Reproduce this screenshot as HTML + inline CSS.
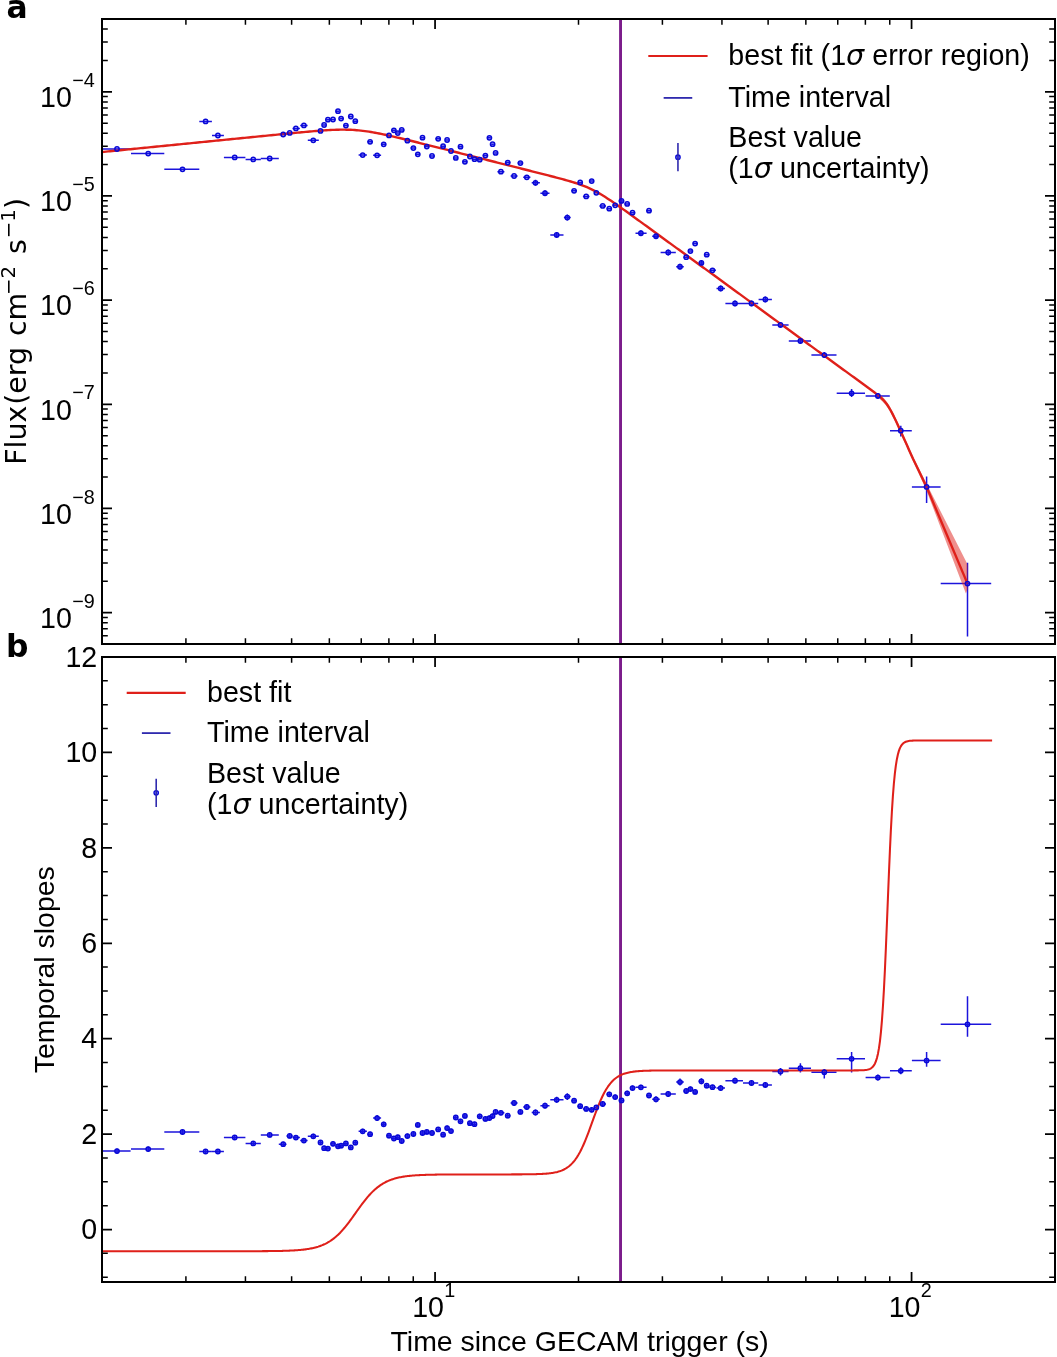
<!DOCTYPE html>
<html lang="en"><head><meta charset="utf-8"><title>Figure</title>
<style>html,body{margin:0;padding:0;background:#fff}svg{display:block;will-change:transform}text{font-family:"Liberation Sans",sans-serif;font-size:28.6px;fill:#000}.lg{font-size:28.65px}.al{font-size:28.45px}.pl{font-size:31.4px;font-weight:bold}.dj{font-family:"DejaVu Sans","Liberation Sans",sans-serif}.sup{font-size:19.8px}</style></head><body>
<svg width="1057" height="1357" viewBox="0 0 1057 1357">
<rect width="1057" height="1357" fill="#fff"/>
<defs><clipPath id="ca"><rect x="102.0" y="19.0" width="953.0" height="625.0"/></clipPath><clipPath id="cb"><rect x="102.0" y="657.0" width="953.0" height="625.0"/></clipPath></defs>
<g clip-path="url(#ca)">
<path d="M620.55 19.0V644.0" stroke="#7c1c8b" stroke-width="2.9"/>
<path d="M96 149H130.6M131 153.6H164.3M164.3 169.3H199.3M199.3 121.4H211.9M212 135.5H223.9M223.9 157.4H245.4M245.6 159.4H260.8M260.8 158.5H278.8M278.8 134.5H286.5M286.5 132.9H292.6M292.5 128.4H299.9M300.2 125.4H307.6M307.8 140.3H318.8M318.8 130.9H322.3M322.5 125H325.8M326.2 119.7H330.25M330.65 119.5H335.3M335.7 111.2H339.35M339.75 118.6H343.3M343.7 125.6H348.15M348.55 116.5H352.85M353.25 121.2H358M358.6 155.1H366.9M367.4 141.8H372.8M373.1 155.3H381.1M381 144.3H386.15M386.55 135.4H391.25M391.65 130.3H395.65M396.05 133.1H399.55M399.95 129.9H404.35M404.75 140.7H410.1M410.7 148.1H415.4M415.8 154.3H419.95M420.35 137.7H424.45M424.85 146.6H429.2M429.6 156H434.7M435.5 138.8H440.45M440.85 146.2H444.9M445.3 140H448.85M449.25 151H453.2M453.6 157.9H457.95M458.35 146.7H462.5M462.9 161.8H467.2M467.6 156.5H472M472.4 159.2H476.9M477.3 159.7H482.35M482.75 155.6H487.2M487.6 137.8H490.8M491.2 144.2H493.9M494.3 152.9H498.05M497.4 171.7H504.4M505 162.6H510.4M510.6 176H517.6M517.7 163.1H523.1M523.2 177.3H530.4M531.7 182.8H539.9M540.4 193.2H549.5M550.3 234.9H563.5M563.9 217.6H570.7M571.4 190.8H576.8M577.5 182.4H582.9M582.9 196.4H589.5M589.15 181.1H593.8M594.2 192.8H599M599.4 205.9H606M606.6 208.7H612M612.5 205.3H617.9M618.8 200.9H624.15M624.55 203.9H629.65M630.05 212.7H635.2M635.5 233.2H646.6M646.3 210.7H651.7M652.2 236.2H659.8M660.6 252.5H675.8M676.2 266.7H683.8M683.5 257.2H688.1M688.5 251.1H692.55M692.95 243.6H697.8M698.7 262.9H703.85M704.25 254.7H709.4M709.3 270.3H715.9M716.5 288.4H725M725.4 303.4H743M743 303.4H758.2M758.6 299.4H771.9M772.3 324.9H788.6M788.8 341H811M811.4 355.1H836.5M836.7 393.3H865M865.6 395.9H889.8M890 430.7H911.8M911.9 486.9H940.6M940.7 583.6H991.2" stroke="#1c14dc" stroke-width="1.5" fill="none"/><path d="M535.5 179.8V185.8M545 190.2V196.2M556.7 231.9V237.9M567.3 214.6V220.6M640.9 230.2V236.2M656 233.2V239.2M668.2 249.5V255.5M680 263.7V269.7M701.4 259.9V265.9M720.7 285.4V291.4M735 300.4V306.4M751.5 300.4V306.4M765.3 296.4V302.4M780.5 321.9V327.9M800.4 338V344M824.3 352.1V358.1M851.6 388.9V396.9M877.9 392.9V398.9M900.8 425.8V436.4M926.6 476.6V503.1M967.5 562.8V636.5" stroke="#1c14dc" stroke-width="1.5" fill="none"/>
<path d="M880 394.53L881.14 395.54L882.28 396.62L883.41 397.78L884.55 399.03L885.69 400.41L886.83 401.93L887.97 403.59L889.1 405.39L890.24 407.34L891.38 409.41L892.52 411.6L893.66 413.87L894.79 416.22L895.93 418.62L897.07 421.06L898.21 423.53L899.34 426.02L900.48 428.53L901.62 431.05L902.76 433.58L903.9 436.12L905.03 438.66L906.17 441.2L907.31 443.74L908.45 446.29L909.59 448.84L910.72 451.39L911.86 453.93L913 456.48L926.6 483.8L966.6 562.5L967.6 565L967.6 589L965.9 593.5L926.6 490.8L913 461.08L911.86 458.53L910.72 455.99L909.59 453.44L908.45 450.89L907.31 448.34L906.17 445.8L905.03 443.26L903.9 440.72L902.76 438.18L901.62 435.65L900.48 433.13L899.34 430.62L898.21 428.13L897.07 425.66L895.93 423.22L894.79 420.82L893.66 418.47L892.52 416.2L891.38 414.01L890.24 411.94L889.1 409.99L887.97 408.19L886.83 406.53L885.69 405.01L884.55 403.63L883.41 402.38L882.28 401.22L881.14 400.14L880 399.13Z" fill="#df201a" fill-opacity="0.5"/>
<path d="M100 152.23L102.04 152.03L104.08 151.83L106.11 151.62L108.15 151.42L110.19 151.22L112.23 151.02L114.26 150.81L116.3 150.61L118.34 150.41L120.38 150.21L122.41 150L124.45 149.8L126.49 149.6L128.53 149.4L130.56 149.19L132.6 148.99L134.64 148.79L136.68 148.58L138.71 148.38L140.75 148.18L142.79 147.98L144.83 147.77L146.86 147.57L148.9 147.37L150.94 147.17L152.98 146.96L155.02 146.76L157.05 146.56L159.09 146.36L161.13 146.15L163.17 145.95L165.2 145.75L167.24 145.54L169.28 145.34L171.32 145.14L173.35 144.94L175.39 144.73L177.43 144.53L179.47 144.33L181.5 144.13L183.54 143.92L185.58 143.72L187.62 143.52L189.65 143.32L191.69 143.11L193.73 142.91L195.77 142.71L197.8 142.5L199.84 142.3L201.88 142.1L203.92 141.9L205.95 141.69L207.99 141.49L210.03 141.29L212.07 141.09L214.11 140.88L216.14 140.68L218.18 140.48L220.22 140.28L222.26 140.07L224.29 139.87L226.33 139.67L228.37 139.46L230.41 139.26L232.44 139.06L234.48 138.86L236.52 138.65L238.56 138.45L240.59 138.25L242.63 138.05L244.67 137.84L246.71 137.64L248.74 137.44L250.78 137.24L252.82 137.03L254.86 136.83L256.89 136.63L258.93 136.43L260.97 136.23L263.01 136.02L265.05 135.82L267.08 135.62L269.12 135.42L271.16 135.22L273.2 135.02L275.23 134.82L277.27 134.62L279.31 134.42L281.35 134.22L283.38 134.02L285.42 133.82L287.46 133.62L289.5 133.42L291.53 133.22L293.57 133.03L295.61 132.83L297.65 132.64L299.68 132.45L301.72 132.26L303.76 132.07L305.8 131.88L307.83 131.7L309.87 131.52L311.91 131.34L313.95 131.17L315.98 131L318.02 130.84L320.06 130.68L322.1 130.53L324.14 130.39L326.17 130.25L328.21 130.13L330.25 130.02L332.29 129.92L334.32 129.83L336.36 129.76L338.4 129.7L340.44 129.67L342.47 129.65L344.51 129.65L346.55 129.68L348.59 129.73L350.62 129.81L352.66 129.91L354.7 130.04L356.74 130.2L358.77 130.38L360.81 130.59L362.85 130.82L364.89 131.08L366.92 131.37L368.96 131.67L371 132L373.04 132.35L375.08 132.72L377.11 133.1L379.15 133.5L381.19 133.91L383.23 134.33L385.26 134.77L387.3 135.22L389.34 135.67L391.38 136.13L393.41 136.6L395.45 137.08L397.49 137.56L399.53 138.04L401.56 138.53L403.6 139.02L405.64 139.52L407.68 140.01L409.71 140.51L411.75 141.02L413.79 141.52L415.83 142.03L417.86 142.53L419.9 143.04L421.94 143.55L423.98 144.06L426.02 144.57L428.05 145.08L430.09 145.59L432.13 146.1L434.17 146.61L436.2 147.13L438.24 147.64L440.28 148.15L442.32 148.66L444.35 149.18L446.39 149.69L448.43 150.21L450.47 150.72L452.5 151.23L454.54 151.75L456.58 152.26L458.62 152.77L460.65 153.29L462.69 153.8L464.73 154.32L466.77 154.83L468.8 155.35L470.84 155.86L472.88 156.37L474.92 156.89L476.95 157.4L478.99 157.92L481.03 158.43L483.07 158.95L485.11 159.46L487.14 159.98L489.18 160.49L491.22 161L493.26 161.52L495.29 162.03L497.33 162.55L499.37 163.06L501.41 163.58L503.44 164.09L505.48 164.61L507.52 165.12L509.56 165.63L511.59 166.15L513.63 166.66L515.67 167.18L517.71 167.69L519.74 168.21L521.78 168.72L523.82 169.24L525.86 169.75L527.89 170.27L529.93 170.78L531.97 171.3L534.01 171.82L536.05 172.33L538.08 172.85L540.12 173.37L542.16 173.89L544.2 174.41L546.23 174.93L548.27 175.45L550.31 175.98L552.35 176.5L554.38 177.03L556.42 177.57L558.46 178.1L560.5 178.65L562.53 179.2L564.57 179.76L566.61 180.33L568.65 180.91L570.68 181.5L572.72 182.12L574.76 182.75L576.8 183.41L578.83 184.1L580.87 184.82L582.91 185.58L584.95 186.38L586.98 187.23L589.02 188.12L591.06 189.07L593.1 190.07L595.14 191.12L597.17 192.22L599.21 193.37L601.25 194.57L603.29 195.81L605.32 197.09L607.36 198.4L609.4 199.74L611.44 201.1L613.47 202.49L615.51 203.89L617.55 205.31L619.59 206.74L621.62 208.18L623.66 209.63L625.7 211.09L627.74 212.55L629.77 214.02L631.81 215.49L633.85 216.96L635.89 218.43L637.92 219.91L639.96 221.39L642 222.87L644.04 224.35L646.08 225.83L648.11 227.32L650.15 228.8L652.19 230.28L654.23 231.77L656.26 233.25L658.3 234.74L660.34 236.22L662.38 237.71L664.41 239.19L666.45 240.68L668.49 242.16L670.53 243.65L672.56 245.13L674.6 246.62L676.64 248.1L678.68 249.59L680.71 251.07L682.75 252.56L684.79 254.05L686.83 255.53L688.86 257.02L690.9 258.5L692.94 259.99L694.98 261.47L697.02 262.96L699.05 264.44L701.09 265.93L703.13 267.41L705.17 268.9L707.2 270.39L709.24 271.87L711.28 273.36L713.32 274.84L715.35 276.33L717.39 277.81L719.43 279.3L721.47 280.78L723.5 282.27L725.54 283.76L727.58 285.24L729.62 286.73L731.65 288.21L733.69 289.7L735.73 291.18L737.77 292.67L739.8 294.15L741.84 295.64L743.88 297.13L745.92 298.61L747.95 300.1L749.99 301.58L752.03 303.07L754.07 304.55L756.11 306.04L758.14 307.52L760.18 309.01L762.22 310.49L764.26 311.98L766.29 313.47L768.33 314.95L770.37 316.44L772.41 317.92L774.44 319.41L776.48 320.89L778.52 322.38L780.56 323.86L782.59 325.35L784.63 326.84L786.67 328.32L788.71 329.81L790.74 331.29L792.78 332.78L794.82 334.26L796.86 335.75L798.89 337.23L800.93 338.72L802.97 340.21L805.01 341.69L807.05 343.18L809.08 344.66L811.12 346.15L813.16 347.63L815.2 349.12L817.23 350.6L819.27 352.09L821.31 353.57L823.35 355.06L825.38 356.55L827.42 358.03L829.46 359.52L831.5 361L833.53 362.49L835.57 363.97L837.61 365.46L839.65 366.94L841.68 368.43L843.72 369.92L845.76 371.4L847.8 372.89L849.83 374.37L851.87 375.86L853.91 377.34L855.95 378.83L857.98 380.31L860.02 381.8L862.06 383.29L864.1 384.77L866.14 386.26L868.17 387.76L870.21 389.25L872.25 390.76L874.29 392.28L876.32 393.84L878.36 395.46L880.4 397.18L882.44 399.08L884.47 401.24L886.51 403.79L888.55 406.79L890.59 410.26L892.62 414.11L894.66 418.24L896.7 422.56L898.74 426.99L900.77 431.48L902.81 436L904.85 440.54L906.89 445.1L908.92 449.66L910.96 454.22L913 458.78L926.6 486.9L967.5 583.6" fill="none" stroke="#df201a" stroke-width="2.4" stroke-linejoin="round"/>
<g fill="#0a0aff" fill-opacity="0.25" stroke="#0808d6" stroke-width="1.5"><circle cx="117" cy="149" r="2.15"/><circle cx="148.2" cy="153.6" r="2.15"/><circle cx="182.5" cy="169.3" r="2.15"/><circle cx="205.6" cy="121.4" r="2.15"/><circle cx="217.9" cy="135.5" r="2.15"/><circle cx="234.7" cy="157.4" r="2.15"/><circle cx="253.3" cy="159.4" r="2.15"/><circle cx="269.7" cy="158.5" r="2.15"/><circle cx="283.2" cy="134.5" r="2.15"/><circle cx="289.7" cy="132.9" r="2.15"/><circle cx="295.9" cy="128.4" r="2.15"/><circle cx="303.9" cy="125.4" r="2.15"/><circle cx="313.3" cy="140.3" r="2.15"/><circle cx="320.5" cy="130.9" r="2.15"/><circle cx="324.1" cy="125" r="2.15"/><circle cx="327.9" cy="119.7" r="2.15"/><circle cx="333" cy="119.5" r="2.15"/><circle cx="338" cy="111.2" r="2.15"/><circle cx="341.1" cy="118.6" r="2.15"/><circle cx="345.9" cy="125.6" r="2.15"/><circle cx="350.8" cy="116.5" r="2.15"/><circle cx="355.3" cy="121.2" r="2.15"/><circle cx="362.7" cy="155.1" r="2.15"/><circle cx="370.1" cy="141.8" r="2.15"/><circle cx="377.1" cy="155.3" r="2.15"/><circle cx="383.7" cy="144.3" r="2.15"/><circle cx="389" cy="135.4" r="2.15"/><circle cx="393.9" cy="130.3" r="2.15"/><circle cx="397.8" cy="133.1" r="2.15"/><circle cx="401.7" cy="129.9" r="2.15"/><circle cx="407.4" cy="140.7" r="2.15"/><circle cx="413.4" cy="148.1" r="2.15"/><circle cx="417.8" cy="154.3" r="2.15"/><circle cx="422.5" cy="137.7" r="2.15"/><circle cx="426.8" cy="146.6" r="2.15"/><circle cx="432" cy="156" r="2.15"/><circle cx="438.2" cy="138.8" r="2.15"/><circle cx="443.1" cy="146.2" r="2.15"/><circle cx="447.1" cy="140" r="2.15"/><circle cx="451" cy="151" r="2.15"/><circle cx="455.8" cy="157.9" r="2.15"/><circle cx="460.5" cy="146.7" r="2.15"/><circle cx="464.9" cy="161.8" r="2.15"/><circle cx="469.9" cy="156.5" r="2.15"/><circle cx="474.5" cy="159.2" r="2.15"/><circle cx="479.7" cy="159.7" r="2.15"/><circle cx="485.4" cy="155.6" r="2.15"/><circle cx="489.4" cy="137.8" r="2.15"/><circle cx="492.6" cy="144.2" r="2.15"/><circle cx="495.6" cy="152.9" r="2.15"/><circle cx="500.9" cy="171.7" r="2.15"/><circle cx="507.7" cy="162.6" r="2.15"/><circle cx="514.1" cy="176" r="2.15"/><circle cx="520.4" cy="163.1" r="2.15"/><circle cx="526.8" cy="177.3" r="2.15"/><circle cx="535.5" cy="182.8" r="2.15"/><circle cx="545" cy="193.2" r="2.15"/><circle cx="556.7" cy="234.9" r="2.15"/><circle cx="567.3" cy="217.6" r="2.15"/><circle cx="574.1" cy="190.8" r="2.15"/><circle cx="580.2" cy="182.4" r="2.15"/><circle cx="586.2" cy="196.4" r="2.15"/><circle cx="591.7" cy="181.1" r="2.15"/><circle cx="596.3" cy="192.8" r="2.15"/><circle cx="602.7" cy="205.9" r="2.15"/><circle cx="609.3" cy="208.7" r="2.15"/><circle cx="615.2" cy="205.3" r="2.15"/><circle cx="621.5" cy="200.9" r="2.15"/><circle cx="627.2" cy="203.9" r="2.15"/><circle cx="632.5" cy="212.7" r="2.15"/><circle cx="640.9" cy="233.2" r="2.15"/><circle cx="649" cy="210.7" r="2.15"/><circle cx="656" cy="236.2" r="2.15"/><circle cx="668.2" cy="252.5" r="2.15"/><circle cx="680" cy="266.7" r="2.15"/><circle cx="686.2" cy="257.2" r="2.15"/><circle cx="690.4" cy="251.1" r="2.15"/><circle cx="695.1" cy="243.6" r="2.15"/><circle cx="701.4" cy="262.9" r="2.15"/><circle cx="706.7" cy="254.7" r="2.15"/><circle cx="712.5" cy="270.3" r="2.15"/><circle cx="720.7" cy="288.4" r="2.15"/><circle cx="735" cy="303.4" r="2.15"/><circle cx="751.5" cy="303.4" r="2.15"/><circle cx="765.3" cy="299.4" r="2.15"/><circle cx="780.5" cy="324.9" r="2.15"/><circle cx="800.4" cy="341" r="2.15"/><circle cx="824.3" cy="355.1" r="2.15"/><circle cx="851.6" cy="393.3" r="2.15"/><circle cx="877.9" cy="395.9" r="2.15"/><circle cx="900.8" cy="430.7" r="2.15"/><circle cx="926.6" cy="486.9" r="2.15"/><circle cx="967.5" cy="583.6" r="2.15"/></g>
</g>
<g clip-path="url(#cb)">
<path d="M620.55 657.0V1282.0" stroke="#7c1c8b" stroke-width="2.9"/>
<path d="M96 1151.1H130.6M131 1149.1H164.3M164.3 1132H199.3M199.3 1151.5H211.9M212 1151.5H223.9M223.9 1137.5H245.4M245.6 1143.4H260.8M260.8 1134.9H278.8M278.8 1144.2H286.5M286.5 1135.9H292.6M292.5 1137.6H299.9M300.2 1140.6H307.6M307.8 1136.3H318.8M318.8 1142.5H322.3M322.5 1148.2H325.8M326.2 1148.6H330.25M330.65 1143.8H335.3M335.7 1146.3H339.35M339.75 1145.7H343.3M343.7 1143.4H348.15M348.55 1147.4H352.85M353.25 1142.7H358M358.6 1131.3H366.9M367.4 1134.2H372.8M373.1 1118.1H381.1M381 1124.3H386.15M386.55 1135.7H391.25M391.65 1138.5H395.65M396.05 1137.2H399.55M399.95 1141H404.35M404.75 1136.1H410.1M410.7 1134H415.4M415.8 1124.9H419.95M420.35 1133H424.45M424.85 1131.9H429.2M429.6 1133H434.7M435.5 1129.4H440.45M440.85 1134.7H444.9M445.3 1128.1H448.85M449.25 1131.1H453.2M453.6 1117.5H457.95M458.35 1121.3H462.5M462.9 1115.9H467.2M467.6 1123.2H472M472.4 1124.2H476.9M477.3 1116.3H482.35M482.75 1118.9H487.2M487.6 1118.1H490.8M491.2 1116.1H493.9M494.3 1111.9H498.05M497.4 1112.8H504.4M505 1115.7H510.4M510.6 1103H517.6M517.7 1111.9H523.1M523.2 1107H530.4M531.7 1112.5H539.9M540.4 1105.7H549.5M550.3 1099.8H563.5M563.9 1096.6H570.7M571.4 1100.7H576.8M577.5 1106.2H582.9M582.9 1108.9H589.5M589.15 1109.8H593.8M594.2 1107.4H599M599.4 1104H606M606.6 1094.3H612M612.5 1097.1H617.9M618.8 1100.4H624.15M624.55 1093.3H629.65M630.05 1088.1H635.2M635.5 1087.3H646.6M646.3 1095.5H651.7M652.2 1099.3H659.8M660.6 1094H675.8M676.2 1082.1H683.8M683.5 1091H688.1M688.5 1089.1H692.55M692.95 1091.9H697.8M698.7 1081.3H703.85M704.25 1085.7H709.4M709.3 1087.2H715.9M716.5 1088.1H725M725.4 1080.7H743M743 1083H758.2M758.6 1084.9H771.9M772.3 1071.5H788.6M788.8 1068.2H811M811.4 1072.2H836.5M836.7 1058.8H865M865.6 1077.6H889.8M890 1070.8H911.8M911.9 1060.6H940.6M940.7 1024.3H991.2" stroke="#1c14dc" stroke-width="1.5" fill="none"/><path d="M117 1148.6V1153.6M148.2 1146.6V1151.6M182.5 1129.5V1134.5M205.6 1149V1154M217.9 1149V1154M234.7 1135V1140M253.3 1140.9V1145.9M269.7 1132.4V1137.4M283.2 1141.7V1146.7M289.7 1133.4V1138.4M295.9 1135.1V1140.1M303.9 1138.1V1143.1M313.3 1133.8V1138.8M320.5 1140V1145M324.1 1145.7V1150.7M327.9 1146.1V1151.1M333 1141.3V1146.3M338 1143.8V1148.8M341.1 1143.2V1148.2M345.9 1140.9V1145.9M350.8 1144.9V1149.9M355.3 1140.2V1145.2M362.7 1128.8V1133.8M370.1 1131.7V1136.7M377.1 1115.1V1121.1M383.7 1121.8V1126.8M389 1133.2V1138.2M393.9 1136V1141M397.8 1134.7V1139.7M401.7 1138.5V1143.5M407.4 1133.6V1138.6M413.4 1131.5V1136.5M417.8 1122.4V1127.4M422.5 1130.5V1135.5M426.8 1129.4V1134.4M432 1130.5V1135.5M438.2 1126.9V1131.9M443.1 1132.2V1137.2M447.1 1125.6V1130.6M451 1128.6V1133.6M455.8 1115V1120M460.5 1118.8V1123.8M464.9 1113.4V1118.4M469.9 1120.7V1125.7M474.5 1121.7V1126.7M479.7 1113.8V1118.8M485.4 1116.4V1121.4M489.4 1115.6V1120.6M492.6 1113.6V1118.6M495.6 1109.4V1114.4M500.9 1110.3V1115.3M507.7 1113.2V1118.2M514.1 1100V1106M520.4 1109.4V1114.4M526.8 1104V1110M535.5 1109.5V1115.5M545 1102.7V1108.7M556.7 1096.8V1102.8M567.3 1093.3V1099.9M574.1 1098.2V1103.2M580.2 1103.7V1108.7M586.2 1106.4V1111.4M591.7 1107.3V1112.3M596.3 1104.9V1109.9M602.7 1101V1107M609.3 1091.8V1096.8M615.2 1094.6V1099.6M621.5 1097.9V1102.9M627.2 1090.8V1095.8M632.5 1085.6V1090.6M640.9 1084.8V1089.8M649 1093V1098M656 1096.3V1102.3M668.2 1091V1097M680 1078.6V1085.6M686.2 1088.5V1093.5M690.4 1086.6V1091.6M695.1 1089.4V1094.4M701.4 1078.3V1084.3M706.7 1083.2V1088.2M712.5 1084.7V1089.7M720.7 1085.1V1091.1M735 1077.7V1083.7M751.5 1080V1086M765.3 1081.9V1087.9M780.5 1068V1075.5M800.4 1063.2V1072.5M824.3 1068.9V1078.5M851.6 1052V1072.4M877.9 1074.6V1080.6M900.8 1067.2V1074.2M926.6 1052V1066.7M967.5 996.3V1036.7" stroke="#1c14dc" stroke-width="1.5" fill="none"/>
<path d="M100 1251.23L100.99 1251.23L101.98 1251.23L102.98 1251.23L103.97 1251.23L104.96 1251.23L105.95 1251.23L106.95 1251.23L107.94 1251.23L108.93 1251.23L109.92 1251.23L110.92 1251.23L111.91 1251.23L112.9 1251.23L113.89 1251.23L114.88 1251.23L115.88 1251.23L116.87 1251.23L117.86 1251.23L118.85 1251.23L119.85 1251.23L120.84 1251.23L121.83 1251.23L122.82 1251.23L123.82 1251.23L124.81 1251.23L125.8 1251.23L126.79 1251.23L127.79 1251.23L128.78 1251.23L129.77 1251.23L130.76 1251.23L131.75 1251.23L132.75 1251.23L133.74 1251.23L134.73 1251.23L135.72 1251.23L136.72 1251.23L137.71 1251.23L138.7 1251.23L139.69 1251.23L140.69 1251.23L141.68 1251.23L142.67 1251.23L143.66 1251.23L144.65 1251.23L145.65 1251.23L146.64 1251.23L147.63 1251.23L148.62 1251.23L149.62 1251.23L150.61 1251.23L151.6 1251.23L152.59 1251.23L153.59 1251.23L154.58 1251.23L155.57 1251.23L156.56 1251.23L157.55 1251.23L158.55 1251.23L159.54 1251.23L160.53 1251.23L161.52 1251.23L162.52 1251.23L163.51 1251.23L164.5 1251.23L165.49 1251.23L166.49 1251.23L167.48 1251.23L168.47 1251.23L169.46 1251.23L170.46 1251.23L171.45 1251.23L172.44 1251.23L173.43 1251.23L174.42 1251.23L175.42 1251.23L176.41 1251.23L177.4 1251.23L178.39 1251.23L179.39 1251.23L180.38 1251.23L181.37 1251.23L182.36 1251.23L183.36 1251.23L184.35 1251.23L185.34 1251.23L186.33 1251.23L187.32 1251.23L188.32 1251.23L189.31 1251.23L190.3 1251.23L191.29 1251.23L192.29 1251.23L193.28 1251.23L194.27 1251.23L195.26 1251.23L196.26 1251.23L197.25 1251.23L198.24 1251.23L199.23 1251.23L200.22 1251.23L201.22 1251.23L202.21 1251.23L203.2 1251.23L204.19 1251.23L205.19 1251.23L206.18 1251.23L207.17 1251.23L208.16 1251.23L209.16 1251.23L210.15 1251.23L211.14 1251.23L212.13 1251.23L213.13 1251.22L214.12 1251.22L215.11 1251.22L216.1 1251.22L217.09 1251.22L218.09 1251.22L219.08 1251.22L220.07 1251.22L221.06 1251.22L222.06 1251.22L223.05 1251.22L224.04 1251.22L225.03 1251.22L226.03 1251.22L227.02 1251.22L228.01 1251.22L229 1251.22L229.99 1251.22L230.99 1251.22L231.98 1251.22L232.97 1251.22L233.96 1251.22L234.96 1251.22L235.95 1251.22L236.94 1251.21L237.93 1251.21L238.93 1251.21L239.92 1251.21L240.91 1251.21L241.9 1251.21L242.89 1251.21L243.89 1251.21L244.88 1251.2L245.87 1251.2L246.86 1251.2L247.86 1251.2L248.85 1251.2L249.84 1251.19L250.83 1251.19L251.83 1251.19L252.82 1251.19L253.81 1251.18L254.8 1251.18L255.79 1251.18L256.79 1251.17L257.78 1251.17L258.77 1251.17L259.76 1251.16L260.76 1251.16L261.75 1251.15L262.74 1251.14L263.73 1251.14L264.73 1251.13L265.72 1251.12L266.71 1251.12L267.7 1251.11L268.7 1251.1L269.69 1251.09L270.68 1251.08L271.67 1251.07L272.66 1251.06L273.66 1251.04L274.65 1251.03L275.64 1251.01L276.63 1251L277.63 1250.98L278.62 1250.96L279.61 1250.94L280.6 1250.92L281.6 1250.9L282.59 1250.87L283.58 1250.85L284.57 1250.82L285.56 1250.79L286.56 1250.75L287.55 1250.72L288.54 1250.68L289.53 1250.64L290.53 1250.59L291.52 1250.55L292.51 1250.5L293.5 1250.44L294.5 1250.38L295.49 1250.32L296.48 1250.25L297.47 1250.18L298.46 1250.1L299.46 1250.02L300.45 1249.93L301.44 1249.83L302.43 1249.73L303.43 1249.61L304.42 1249.5L305.41 1249.37L306.4 1249.23L307.4 1249.08L308.39 1248.93L309.38 1248.76L310.37 1248.58L311.37 1248.38L312.36 1248.18L313.35 1247.96L314.34 1247.72L315.33 1247.47L316.33 1247.2L317.32 1246.91L318.31 1246.61L319.3 1246.28L320.3 1245.93L321.29 1245.56L322.28 1245.17L323.27 1244.75L324.27 1244.3L325.26 1243.83L326.25 1243.33L327.24 1242.79L328.23 1242.23L329.23 1241.64L330.22 1241.01L331.21 1240.34L332.2 1239.64L333.2 1238.91L334.19 1238.14L335.18 1237.33L336.17 1236.48L337.17 1235.59L338.16 1234.66L339.15 1233.69L340.14 1232.69L341.13 1231.64L342.13 1230.56L343.12 1229.44L344.11 1228.29L345.1 1227.1L346.1 1225.88L347.09 1224.62L348.08 1223.34L349.07 1222.03L350.07 1220.7L351.06 1219.35L352.05 1217.99L353.04 1216.61L354.04 1215.22L355.03 1213.82L356.02 1212.42L357.01 1211.02L358 1209.63L359 1208.24L359.99 1206.87L360.98 1205.51L361.97 1204.17L362.97 1202.86L363.96 1201.56L364.95 1200.3L365.94 1199.06L366.94 1197.86L367.93 1196.69L368.92 1195.55L369.91 1194.46L370.9 1193.39L371.9 1192.37L372.89 1191.39L373.88 1190.44L374.87 1189.54L375.87 1188.67L376.86 1187.85L377.85 1187.06L378.84 1186.31L379.84 1185.59L380.83 1184.91L381.82 1184.27L382.81 1183.66L383.8 1183.08L384.8 1182.54L385.79 1182.03L386.78 1181.54L387.77 1181.08L388.77 1180.65L389.76 1180.25L390.75 1179.87L391.74 1179.51L392.74 1179.17L393.73 1178.86L394.72 1178.56L395.71 1178.28L396.71 1178.03L397.7 1177.78L398.69 1177.56L399.68 1177.34L400.67 1177.14L401.67 1176.96L402.66 1176.79L403.65 1176.62L404.64 1176.47L405.64 1176.33L406.63 1176.2L407.62 1176.08L408.61 1175.96L409.61 1175.86L410.6 1175.76L411.59 1175.66L412.58 1175.58L413.57 1175.5L414.57 1175.42L415.56 1175.35L416.55 1175.29L417.54 1175.23L418.54 1175.17L419.53 1175.12L420.52 1175.07L421.51 1175.02L422.51 1174.98L423.5 1174.94L424.49 1174.9L425.48 1174.87L426.47 1174.84L427.47 1174.81L428.46 1174.78L429.45 1174.75L430.44 1174.73L431.44 1174.71L432.43 1174.69L433.42 1174.67L434.41 1174.65L435.41 1174.63L436.4 1174.62L437.39 1174.6L438.38 1174.59L439.38 1174.58L440.37 1174.57L441.36 1174.56L442.35 1174.55L443.34 1174.54L444.34 1174.53L445.33 1174.52L446.32 1174.51L447.31 1174.51L448.31 1174.5L449.3 1174.49L450.29 1174.49L451.28 1174.48L452.28 1174.48L453.27 1174.47L454.26 1174.47L455.25 1174.47L456.24 1174.46L457.24 1174.46L458.23 1174.46L459.22 1174.45L460.21 1174.45L461.21 1174.45L462.2 1174.44L463.19 1174.44L464.18 1174.44L465.18 1174.44L466.17 1174.44L467.16 1174.44L468.15 1174.43L469.14 1174.43L470.14 1174.43L471.13 1174.43L472.12 1174.43L473.11 1174.43L474.11 1174.43L475.1 1174.43L476.09 1174.42L477.08 1174.42L478.08 1174.42L479.07 1174.42L480.06 1174.42L481.05 1174.42L482.05 1174.42L483.04 1174.42L484.03 1174.42L485.02 1174.42L486.01 1174.42L487.01 1174.42L488 1174.42L488.99 1174.42L489.98 1174.42L490.98 1174.42L491.97 1174.42L492.96 1174.41L493.95 1174.41L494.95 1174.41L495.94 1174.41L496.93 1174.41L497.92 1174.41L498.91 1174.41L499.91 1174.41L500.9 1174.41L501.89 1174.41L502.88 1174.41L503.88 1174.41L504.87 1174.41L505.86 1174.4L506.85 1174.4L507.85 1174.4L508.84 1174.4L509.83 1174.4L510.82 1174.4L511.81 1174.39L512.81 1174.39L513.8 1174.39L514.79 1174.39L515.78 1174.38L516.78 1174.38L517.77 1174.38L518.76 1174.37L519.75 1174.37L520.75 1174.36L521.74 1174.36L522.73 1174.35L523.72 1174.34L524.72 1174.34L525.71 1174.33L526.7 1174.32L527.69 1174.31L528.68 1174.29L529.68 1174.28L530.67 1174.27L531.66 1174.25L532.65 1174.23L533.65 1174.21L534.64 1174.19L535.63 1174.16L536.62 1174.13L537.62 1174.1L538.61 1174.07L539.6 1174.03L540.59 1173.99L541.58 1173.94L542.58 1173.89L543.57 1173.83L544.56 1173.76L545.55 1173.69L546.55 1173.61L547.54 1173.52L548.53 1173.42L549.52 1173.31L550.52 1173.19L551.51 1173.06L552.5 1172.91L553.49 1172.74L554.48 1172.56L555.48 1172.36L556.47 1172.13L557.46 1171.89L558.45 1171.61L559.45 1171.31L560.44 1170.97L561.43 1170.6L562.42 1170.2L563.42 1169.75L564.41 1169.25L565.4 1168.71L566.39 1168.11L567.38 1167.45L568.38 1166.73L569.37 1165.95L570.36 1165.09L571.35 1164.15L572.35 1163.13L573.34 1162.02L574.33 1160.82L575.32 1159.52L576.32 1158.12L577.31 1156.61L578.3 1155L579.29 1153.28L580.29 1151.44L581.28 1149.49L582.27 1147.43L583.26 1145.27L584.25 1143L585.25 1140.63L586.24 1138.18L587.23 1135.64L588.22 1133.04L589.22 1130.38L590.21 1127.67L591.2 1124.94L592.19 1122.19L593.19 1119.45L594.18 1116.72L595.17 1114.02L596.16 1111.37L597.15 1108.77L598.15 1106.25L599.14 1103.81L600.13 1101.46L601.12 1099.2L602.12 1097.05L603.11 1095.01L604.1 1093.08L605.09 1091.26L606.09 1089.56L607.08 1087.96L608.07 1086.47L609.06 1085.09L610.05 1083.8L611.05 1082.62L612.04 1081.52L613.03 1080.52L614.02 1079.59L615.02 1078.74L616.01 1077.97L617 1077.26L617.99 1076.61L618.99 1076.02L619.98 1075.49L620.97 1075L621.96 1074.56L622.96 1074.16L623.95 1073.79L624.94 1073.46L625.93 1073.16L626.92 1072.89L627.92 1072.65L628.91 1072.43L629.9 1072.23L630.89 1072.05L631.89 1071.89L632.88 1071.74L633.87 1071.61L634.86 1071.49L635.86 1071.38L636.85 1071.28L637.84 1071.2L638.83 1071.12L639.82 1071.05L640.82 1070.98L641.81 1070.93L642.8 1070.87L643.79 1070.83L644.79 1070.79L645.78 1070.75L646.77 1070.71L647.76 1070.68L648.76 1070.65L649.75 1070.63L650.74 1070.61L651.73 1070.59L652.72 1070.57L653.72 1070.55L654.71 1070.54L655.7 1070.53L656.69 1070.51L657.69 1070.5L658.68 1070.49L659.67 1070.48L660.66 1070.48L661.66 1070.47L662.65 1070.46L663.64 1070.46L664.63 1070.45L665.63 1070.45L666.62 1070.44L667.61 1070.44L668.6 1070.44L669.59 1070.43L670.59 1070.43L671.58 1070.43L672.57 1070.43L673.56 1070.42L674.56 1070.42L675.55 1070.42L676.54 1070.42L677.53 1070.42L678.53 1070.42L679.52 1070.42L680.51 1070.41L681.5 1070.41L682.49 1070.41L683.49 1070.41L684.48 1070.41L685.47 1070.41L686.46 1070.41L687.46 1070.41L688.45 1070.41L689.44 1070.41L690.43 1070.41L691.43 1070.41L692.42 1070.41L693.41 1070.41L694.4 1070.41L695.39 1070.41L696.39 1070.41L697.38 1070.41L698.37 1070.41L699.36 1070.41L700.36 1070.41L701.35 1070.41L702.34 1070.41L703.33 1070.41L704.33 1070.41L705.32 1070.41L706.31 1070.41L707.3 1070.41L708.3 1070.41L709.29 1070.41L710.28 1070.41L711.27 1070.41L712.26 1070.41L713.26 1070.41L714.25 1070.41L715.24 1070.41L716.23 1070.41L717.23 1070.41L718.22 1070.41L719.21 1070.41L720.2 1070.41L721.2 1070.41L722.19 1070.41L723.18 1070.41L724.17 1070.41L725.16 1070.41L726.16 1070.41L727.15 1070.41L728.14 1070.41L729.13 1070.41L730.13 1070.41L731.12 1070.41L732.11 1070.41L733.1 1070.41L734.1 1070.41L735.09 1070.41L736.08 1070.41L737.07 1070.41L738.06 1070.41L739.06 1070.41L740.05 1070.41L741.04 1070.41L742.03 1070.41L743.03 1070.41L744.02 1070.41L745.01 1070.41L746 1070.41L747 1070.41L747.99 1070.41L748.98 1070.41L749.97 1070.41L750.97 1070.41L751.96 1070.41L752.95 1070.41L753.94 1070.41L754.93 1070.41L755.93 1070.41L756.92 1070.41L757.91 1070.41L758.9 1070.41L759.9 1070.41L760.89 1070.41L761.88 1070.41L762.87 1070.41L763.87 1070.41L764.86 1070.41L765.85 1070.41L766.84 1070.41L767.83 1070.41L768.83 1070.41L769.82 1070.41L770.81 1070.41L771.8 1070.41L772.8 1070.41L773.79 1070.41L774.78 1070.41L775.77 1070.41L776.77 1070.41L777.76 1070.41L778.75 1070.41L779.74 1070.41L780.73 1070.41L781.73 1070.41L782.72 1070.41L783.71 1070.41L784.7 1070.41L785.7 1070.41L786.69 1070.41L787.68 1070.41L788.67 1070.41L789.67 1070.41L790.66 1070.41L791.65 1070.41L792.64 1070.41L793.64 1070.41L794.63 1070.41L795.62 1070.41L796.61 1070.41L797.6 1070.41L798.6 1070.41L799.59 1070.41L800.58 1070.41L801.57 1070.41L802.57 1070.41L803.56 1070.41L804.55 1070.41L805.54 1070.41L806.54 1070.41L807.53 1070.41L808.52 1070.41L809.51 1070.41L810.5 1070.41L811.5 1070.41L812.49 1070.41L813.48 1070.41L814.47 1070.41L815.47 1070.41L816.46 1070.41L817.45 1070.41L818.44 1070.41L819.44 1070.41L820.43 1070.41L821.42 1070.41L822.41 1070.41L823.4 1070.41L824.4 1070.41L825.39 1070.41L826.38 1070.41L827.37 1070.41L828.37 1070.41L829.36 1070.41L830.35 1070.41L831.34 1070.41L832.34 1070.41L833.33 1070.41L834.32 1070.41L835.31 1070.41L836.31 1070.41L837.3 1070.41L838.29 1070.41L839.28 1070.41L840.27 1070.41L841.27 1070.41L842.26 1070.41L843.25 1070.41L844.24 1070.41L845.24 1070.41L846.23 1070.41L847.22 1070.4L848.21 1070.4L849.21 1070.4L850.2 1070.4L851.19 1070.4L852.18 1070.4L853.17 1070.4L854.17 1070.39L855.16 1070.39L856.15 1070.38L857.14 1070.37L858.14 1070.36L859.13 1070.35L860.12 1070.33L861.11 1070.3L862.11 1070.26L863.1 1070.21L864.09 1070.15L865.08 1070.05L866.07 1069.93L867.07 1069.76L868.06 1069.54L869.05 1069.24L870.04 1068.83L871.04 1068.27L872.03 1067.53L873.02 1066.53L874.01 1065.19L875.01 1063.4L876 1061.01L876.99 1057.83L877.98 1053.64L878.97 1048.15L879.97 1041.02L880.96 1031.9L881.95 1020.42L882.94 1006.27L883.94 989.27L884.93 969.48L885.92 947.26L886.91 923.28L887.91 898.51L888.9 874.05L889.89 850.94L890.88 830.01L891.88 811.76L892.87 796.35L893.86 783.72L894.85 773.6L895.84 765.64L896.84 759.46L897.83 754.73L898.82 751.14L899.81 748.42L900.81 746.39L901.8 744.86L902.79 743.73L903.78 742.88L904.78 742.25L905.77 741.78L906.76 741.44L907.75 741.18L908.74 740.99L909.74 740.85L910.73 740.74L911.72 740.66L912.71 740.61L913.71 740.57L914.7 740.53L915.69 740.51L916.68 740.49L917.68 740.48L918.67 740.47L919.66 740.46L920.65 740.46L921.64 740.46L922.64 740.45L923.63 740.45L924.62 740.45L925.61 740.45L926.61 740.45L927.6 740.45L928.59 740.45L929.58 740.45L930.58 740.45L931.57 740.45L932.56 740.45L933.55 740.44L934.55 740.44L935.54 740.44L936.53 740.44L937.52 740.44L938.51 740.44L939.51 740.44L940.5 740.44L941.49 740.44L942.48 740.44L943.48 740.44L944.47 740.44L945.46 740.44L946.45 740.44L947.45 740.44L948.44 740.44L949.43 740.44L950.42 740.44L951.41 740.44L952.41 740.44L953.4 740.44L954.39 740.44L955.38 740.44L956.38 740.44L957.37 740.44L958.36 740.44L959.35 740.44L960.35 740.44L961.34 740.44L962.33 740.44L963.32 740.44L964.31 740.44L965.31 740.44L966.3 740.44L967.29 740.44L968.28 740.44L969.28 740.44L970.27 740.44L971.26 740.44L972.25 740.44L973.25 740.44L974.24 740.44L975.23 740.44L976.22 740.44L977.22 740.44L978.21 740.44L979.2 740.44L980.19 740.44L981.18 740.44L982.18 740.44L983.17 740.44L984.16 740.44L985.15 740.44L986.15 740.44L987.14 740.44L988.13 740.44L989.12 740.44L990.12 740.44L991.11 740.44L992.1 740.44" fill="none" stroke="#df201a" stroke-width="2.05" stroke-linejoin="round"/>
<g fill="#0a0aff" fill-opacity="0.25" stroke="#0808d6" stroke-width="1.5"><circle cx="117" cy="1151.1" r="2.15"/><circle cx="148.2" cy="1149.1" r="2.15"/><circle cx="182.5" cy="1132" r="2.15"/><circle cx="205.6" cy="1151.5" r="2.15"/><circle cx="217.9" cy="1151.5" r="2.15"/><circle cx="234.7" cy="1137.5" r="2.15"/><circle cx="253.3" cy="1143.4" r="2.15"/><circle cx="269.7" cy="1134.9" r="2.15"/><circle cx="283.2" cy="1144.2" r="2.15"/><circle cx="289.7" cy="1135.9" r="2.15"/><circle cx="295.9" cy="1137.6" r="2.15"/><circle cx="303.9" cy="1140.6" r="2.15"/><circle cx="313.3" cy="1136.3" r="2.15"/><circle cx="320.5" cy="1142.5" r="2.15"/><circle cx="324.1" cy="1148.2" r="2.15"/><circle cx="327.9" cy="1148.6" r="2.15"/><circle cx="333" cy="1143.8" r="2.15"/><circle cx="338" cy="1146.3" r="2.15"/><circle cx="341.1" cy="1145.7" r="2.15"/><circle cx="345.9" cy="1143.4" r="2.15"/><circle cx="350.8" cy="1147.4" r="2.15"/><circle cx="355.3" cy="1142.7" r="2.15"/><circle cx="362.7" cy="1131.3" r="2.15"/><circle cx="370.1" cy="1134.2" r="2.15"/><circle cx="377.1" cy="1118.1" r="2.15"/><circle cx="383.7" cy="1124.3" r="2.15"/><circle cx="389" cy="1135.7" r="2.15"/><circle cx="393.9" cy="1138.5" r="2.15"/><circle cx="397.8" cy="1137.2" r="2.15"/><circle cx="401.7" cy="1141" r="2.15"/><circle cx="407.4" cy="1136.1" r="2.15"/><circle cx="413.4" cy="1134" r="2.15"/><circle cx="417.8" cy="1124.9" r="2.15"/><circle cx="422.5" cy="1133" r="2.15"/><circle cx="426.8" cy="1131.9" r="2.15"/><circle cx="432" cy="1133" r="2.15"/><circle cx="438.2" cy="1129.4" r="2.15"/><circle cx="443.1" cy="1134.7" r="2.15"/><circle cx="447.1" cy="1128.1" r="2.15"/><circle cx="451" cy="1131.1" r="2.15"/><circle cx="455.8" cy="1117.5" r="2.15"/><circle cx="460.5" cy="1121.3" r="2.15"/><circle cx="464.9" cy="1115.9" r="2.15"/><circle cx="469.9" cy="1123.2" r="2.15"/><circle cx="474.5" cy="1124.2" r="2.15"/><circle cx="479.7" cy="1116.3" r="2.15"/><circle cx="485.4" cy="1118.9" r="2.15"/><circle cx="489.4" cy="1118.1" r="2.15"/><circle cx="492.6" cy="1116.1" r="2.15"/><circle cx="495.6" cy="1111.9" r="2.15"/><circle cx="500.9" cy="1112.8" r="2.15"/><circle cx="507.7" cy="1115.7" r="2.15"/><circle cx="514.1" cy="1103" r="2.15"/><circle cx="520.4" cy="1111.9" r="2.15"/><circle cx="526.8" cy="1107" r="2.15"/><circle cx="535.5" cy="1112.5" r="2.15"/><circle cx="545" cy="1105.7" r="2.15"/><circle cx="556.7" cy="1099.8" r="2.15"/><circle cx="567.3" cy="1096.6" r="2.15"/><circle cx="574.1" cy="1100.7" r="2.15"/><circle cx="580.2" cy="1106.2" r="2.15"/><circle cx="586.2" cy="1108.9" r="2.15"/><circle cx="591.7" cy="1109.8" r="2.15"/><circle cx="596.3" cy="1107.4" r="2.15"/><circle cx="602.7" cy="1104" r="2.15"/><circle cx="609.3" cy="1094.3" r="2.15"/><circle cx="615.2" cy="1097.1" r="2.15"/><circle cx="621.5" cy="1100.4" r="2.15"/><circle cx="627.2" cy="1093.3" r="2.15"/><circle cx="632.5" cy="1088.1" r="2.15"/><circle cx="640.9" cy="1087.3" r="2.15"/><circle cx="649" cy="1095.5" r="2.15"/><circle cx="656" cy="1099.3" r="2.15"/><circle cx="668.2" cy="1094" r="2.15"/><circle cx="680" cy="1082.1" r="2.15"/><circle cx="686.2" cy="1091" r="2.15"/><circle cx="690.4" cy="1089.1" r="2.15"/><circle cx="695.1" cy="1091.9" r="2.15"/><circle cx="701.4" cy="1081.3" r="2.15"/><circle cx="706.7" cy="1085.7" r="2.15"/><circle cx="712.5" cy="1087.2" r="2.15"/><circle cx="720.7" cy="1088.1" r="2.15"/><circle cx="735" cy="1080.7" r="2.15"/><circle cx="751.5" cy="1083" r="2.15"/><circle cx="765.3" cy="1084.9" r="2.15"/><circle cx="780.5" cy="1071.5" r="2.15"/><circle cx="800.4" cy="1068.2" r="2.15"/><circle cx="824.3" cy="1072.2" r="2.15"/><circle cx="851.6" cy="1058.8" r="2.15"/><circle cx="877.9" cy="1077.6" r="2.15"/><circle cx="900.8" cy="1070.8" r="2.15"/><circle cx="926.6" cy="1060.6" r="2.15"/><circle cx="967.5" cy="1024.3" r="2.15"/></g>
</g>
<path d="M435.06 644.0v-10.0M435.06 19.0v10.0M911.56 644.0v-10.0M911.56 19.0v10.0M102.0 612.64h10.0M1055.0 612.64h-10.0M102.0 508.48h10.0M1055.0 508.48h-10.0M102.0 404.31h10.0M1055.0 404.31h-10.0M102.0 300.14h10.0M1055.0 300.14h-10.0M102.0 195.98h10.0M1055.0 195.98h-10.0M102.0 91.81h10.0M1055.0 91.81h-10.0" stroke="#000" stroke-width="1.75" fill="none"/>
<path d="M185.91 644.0v-5.8M185.91 19.0v5.8M245.44 644.0v-5.8M245.44 19.0v5.8M291.62 644.0v-5.8M291.62 19.0v5.8M329.35 644.0v-5.8M329.35 19.0v5.8M361.25 644.0v-5.8M361.25 19.0v5.8M388.88 644.0v-5.8M388.88 19.0v5.8M413.26 644.0v-5.8M413.26 19.0v5.8M578.5 644.0v-5.8M578.5 19.0v5.8M662.41 644.0v-5.8M662.41 19.0v5.8M721.94 644.0v-5.8M721.94 19.0v5.8M768.12 644.0v-5.8M768.12 19.0v5.8M805.85 644.0v-5.8M805.85 19.0v5.8M837.75 644.0v-5.8M837.75 19.0v5.8M865.38 644.0v-5.8M865.38 19.0v5.8M889.76 644.0v-5.8M889.76 19.0v5.8M102.0 635.75h5.8M1055.0 635.75h-5.8M102.0 628.78h5.8M1055.0 628.78h-5.8M102.0 622.74h5.8M1055.0 622.74h-5.8M102.0 617.41h5.8M1055.0 617.41h-5.8M102.0 581.29h5.8M1055.0 581.29h-5.8M102.0 562.94h5.8M1055.0 562.94h-5.8M102.0 549.93h5.8M1055.0 549.93h-5.8M102.0 539.83h5.8M1055.0 539.83h-5.8M102.0 531.59h5.8M1055.0 531.59h-5.8M102.0 524.61h5.8M1055.0 524.61h-5.8M102.0 518.57h5.8M1055.0 518.57h-5.8M102.0 513.24h5.8M1055.0 513.24h-5.8M102.0 477.12h5.8M1055.0 477.12h-5.8M102.0 458.78h5.8M1055.0 458.78h-5.8M102.0 445.76h5.8M1055.0 445.76h-5.8M102.0 435.67h5.8M1055.0 435.67h-5.8M102.0 427.42h5.8M1055.0 427.42h-5.8M102.0 420.44h5.8M1055.0 420.44h-5.8M102.0 414.4h5.8M1055.0 414.4h-5.8M102.0 409.08h5.8M1055.0 409.08h-5.8M102.0 372.95h5.8M1055.0 372.95h-5.8M102.0 354.61h5.8M1055.0 354.61h-5.8M102.0 341.59h5.8M1055.0 341.59h-5.8M102.0 331.5h5.8M1055.0 331.5h-5.8M102.0 323.25h5.8M1055.0 323.25h-5.8M102.0 316.28h5.8M1055.0 316.28h-5.8M102.0 310.24h5.8M1055.0 310.24h-5.8M102.0 304.91h5.8M1055.0 304.91h-5.8M102.0 268.79h5.8M1055.0 268.79h-5.8M102.0 250.44h5.8M1055.0 250.44h-5.8M102.0 237.43h5.8M1055.0 237.43h-5.8M102.0 227.33h5.8M1055.0 227.33h-5.8M102.0 219.09h5.8M1055.0 219.09h-5.8M102.0 212.11h5.8M1055.0 212.11h-5.8M102.0 206.07h5.8M1055.0 206.07h-5.8M102.0 200.74h5.8M1055.0 200.74h-5.8M102.0 164.62h5.8M1055.0 164.62h-5.8M102.0 146.28h5.8M1055.0 146.28h-5.8M102.0 133.26h5.8M1055.0 133.26h-5.8M102.0 123.17h5.8M1055.0 123.17h-5.8M102.0 114.92h5.8M1055.0 114.92h-5.8M102.0 107.94h5.8M1055.0 107.94h-5.8M102.0 101.9h5.8M1055.0 101.9h-5.8M102.0 96.58h5.8M1055.0 96.58h-5.8M102.0 60.45h5.8M1055.0 60.45h-5.8M102.0 42.11h5.8M1055.0 42.11h-5.8M102.0 29.09h5.8M1055.0 29.09h-5.8" stroke="#000" stroke-width="1.5" fill="none"/>
<path d="M435.06 1282.0v-10.0M435.06 657.0v10.0M911.56 1282.0v-10.0M911.56 657.0v10.0M102.0 1229.52h10.0M1055.0 1229.52h-10.0M102.0 1134.1h10.0M1055.0 1134.1h-10.0M102.0 1038.68h10.0M1055.0 1038.68h-10.0M102.0 943.26h10.0M1055.0 943.26h-10.0M102.0 847.84h10.0M1055.0 847.84h-10.0M102.0 752.42h10.0M1055.0 752.42h-10.0M102.0 657h10.0M1055.0 657h-10.0" stroke="#000" stroke-width="1.75" fill="none"/>
<path d="M185.91 1282.0v-5.8M185.91 657.0v5.8M245.44 1282.0v-5.8M245.44 657.0v5.8M291.62 1282.0v-5.8M291.62 657.0v5.8M329.35 1282.0v-5.8M329.35 657.0v5.8M361.25 1282.0v-5.8M361.25 657.0v5.8M388.88 1282.0v-5.8M388.88 657.0v5.8M413.26 1282.0v-5.8M413.26 657.0v5.8M578.5 1282.0v-5.8M578.5 657.0v5.8M662.41 1282.0v-5.8M662.41 657.0v5.8M721.94 1282.0v-5.8M721.94 657.0v5.8M768.12 1282.0v-5.8M768.12 657.0v5.8M805.85 1282.0v-5.8M805.85 657.0v5.8M837.75 1282.0v-5.8M837.75 657.0v5.8M865.38 1282.0v-5.8M865.38 657.0v5.8M889.76 1282.0v-5.8M889.76 657.0v5.8M102.0 1277.23h5.8M1055.0 1277.23h-5.8M102.0 1253.37h5.8M1055.0 1253.37h-5.8M102.0 1205.66h5.8M1055.0 1205.66h-5.8M102.0 1181.81h5.8M1055.0 1181.81h-5.8M102.0 1157.95h5.8M1055.0 1157.95h-5.8M102.0 1110.24h5.8M1055.0 1110.24h-5.8M102.0 1086.39h5.8M1055.0 1086.39h-5.8M102.0 1062.53h5.8M1055.0 1062.53h-5.8M102.0 1014.82h5.8M1055.0 1014.82h-5.8M102.0 990.97h5.8M1055.0 990.97h-5.8M102.0 967.11h5.8M1055.0 967.11h-5.8M102.0 919.4h5.8M1055.0 919.4h-5.8M102.0 895.55h5.8M1055.0 895.55h-5.8M102.0 871.69h5.8M1055.0 871.69h-5.8M102.0 823.98h5.8M1055.0 823.98h-5.8M102.0 800.13h5.8M1055.0 800.13h-5.8M102.0 776.27h5.8M1055.0 776.27h-5.8M102.0 728.56h5.8M1055.0 728.56h-5.8M102.0 704.71h5.8M1055.0 704.71h-5.8M102.0 680.85h5.8M1055.0 680.85h-5.8" stroke="#000" stroke-width="1.5" fill="none"/>
<rect x="102.0" y="19.0" width="953.0" height="625.0" fill="none" stroke="#000" stroke-width="2"/>
<rect x="102.0" y="657.0" width="953.0" height="625.0" fill="none" stroke="#000" stroke-width="2"/>
<text x="40.1" y="627.94">10</text><text class="sup" x="72.3" y="607.74">−9</text>
<text x="40.1" y="523.78">10</text><text class="sup" x="72.3" y="503.58">−8</text>
<text x="40.1" y="419.61">10</text><text class="sup" x="72.3" y="399.41">−7</text>
<text x="40.1" y="315.44">10</text><text class="sup" x="72.3" y="295.24">−6</text>
<text x="40.1" y="211.28">10</text><text class="sup" x="72.3" y="191.08">−5</text>
<text x="40.1" y="107.11">10</text><text class="sup" x="72.3" y="86.91">−4</text>
<text x="97.2" y="1239.32" text-anchor="end">0</text>
<text x="97.2" y="1143.9" text-anchor="end">2</text>
<text x="97.2" y="1048.48" text-anchor="end">4</text>
<text x="97.2" y="953.06" text-anchor="end">6</text>
<text x="97.2" y="857.64" text-anchor="end">8</text>
<text x="97.2" y="762.22" text-anchor="end">10</text>
<text x="97.2" y="666.8" text-anchor="end">12</text>
<text x="412.16" y="1316.9">10</text><text class="sup" x="444.26" y="1297.3">1</text>
<text x="888.66" y="1316.9">10</text><text class="sup" x="920.76" y="1297.3">2</text>
<text class="al" x="579.6" y="1350.5" text-anchor="middle">Time since GECAM trigger (s)</text>
<text class="al" transform="translate(54.2 969.8) rotate(-90)" text-anchor="middle">Temporal slopes</text>
<text class="dj al" transform="translate(26 464.79) rotate(-90)">Flux<tspan dx="-8.2"> (erg</tspan><tspan dx="1.9"> cm</tspan><tspan class="sup" dx="-2.3" dy="-10.8">−2</tspan><tspan dx="2.9" dy="10.8"> s</tspan><tspan class="sup" dx="0.7" dy="-10.8">−1</tspan><tspan dx="0.2" dy="10.8">)</tspan></text>
<text class="dj pl" x="6.5" y="18.4">a</text>
<text class="dj pl" x="6.0" y="657.2">b</text>
<path d="M648.3 56.0H707.6" stroke="#df201a" stroke-width="2.2"/>
<text class="lg" x="728.3" y="64.5">best fit (1<tspan class="dj" font-style="italic">σ</tspan> error region)</text>
<path d="M663.65 97.9H692.25" stroke="#2f2aae" stroke-width="1.8"/>
<text class="lg" x="728.3" y="107.4">Time interval</text>
<circle cx="677.95" cy="157.2" r="2.2" fill="#0a0aff" fill-opacity="0.5" stroke="#0808d6" stroke-width="1.3"/>
<path d="M677.95 143.1V171.29999999999998" stroke="#2f2aae" stroke-width="1.6"/>
<text class="lg" x="728.3" y="146.9">Best value</text>
<text class="lg" x="728.3" y="178.0">(1<tspan class="dj" font-style="italic">σ</tspan> uncertainty)</text>
<path d="M126.7 692.9H185.7" stroke="#df201a" stroke-width="2.2"/>
<text class="lg" x="207.0" y="701.9">best fit</text>
<path d="M141.9 733.1H170.5" stroke="#2f2aae" stroke-width="1.8"/>
<text class="lg" x="207.0" y="742.2">Time interval</text>
<circle cx="156.2" cy="792.8" r="2.2" fill="#0a0aff" fill-opacity="0.5" stroke="#0808d6" stroke-width="1.3"/>
<path d="M156.2 778.6999999999999V806.9" stroke="#2f2aae" stroke-width="1.6"/>
<text class="lg" x="207.0" y="782.5">Best value</text>
<text class="lg" x="207.0" y="814.0">(1<tspan class="dj" font-style="italic">σ</tspan> uncertainty)</text>
</svg></body></html>
